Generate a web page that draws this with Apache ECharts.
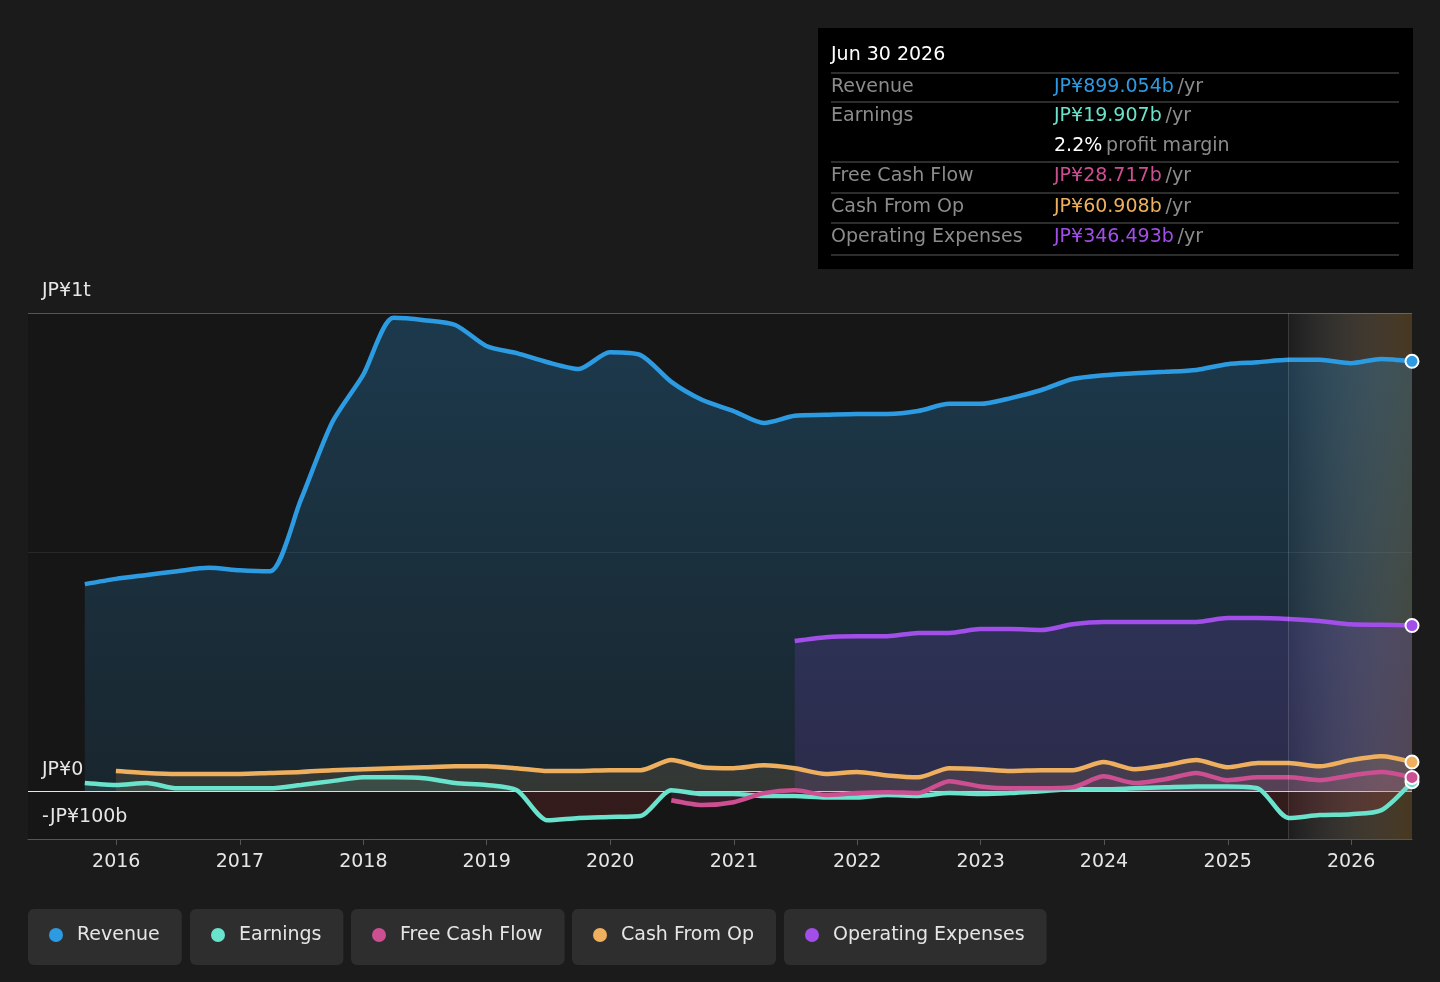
<!DOCTYPE html>
<html>
<head>
<meta charset="utf-8">
<title>Revenue &amp; Earnings</title>
<script src="https://cdn.jsdelivr.net/npm/echarts@6/dist/echarts.min.js"></script>
<style>
  html, body { margin: 0; padding: 0; background: #1b1b1b; }
  #chart { width: 1440px; height: 982px; }
</style>
</head>
<body>
<div id="chart"></div>
<script>
// quarter ends (JP¥ billions)
var quarters = ['2015-09-30','2015-12-31','2016-03-31','2016-06-30','2016-09-30','2016-12-31',
  '2017-03-31','2017-06-30','2017-09-30','2017-12-31','2018-03-31','2018-06-30','2018-09-30','2018-12-31',
  '2019-03-31','2019-06-30','2019-09-30','2019-12-31','2020-03-31','2020-06-30','2020-09-30','2020-12-31',
  '2021-03-31','2021-06-30','2021-09-30','2021-12-31','2022-03-31','2022-06-30','2022-09-30','2022-12-31',
  '2023-03-31','2023-06-30','2023-09-30','2023-12-31','2024-03-31','2024-06-30','2024-09-30','2024-12-31',
  '2025-03-31','2025-06-30','2025-09-30','2025-12-31','2026-03-31','2026-06-30'];

var revenue = [433, 444, 452, 460, 467, 462, 460, 609, 770, 870, 990, 985, 975, 931, 916, 897, 883, 918,
  912, 856, 818, 795, 770, 785, 787, 789, 789, 795, 810, 810, 822, 839, 862, 870, 874, 877, 881, 893,
  897, 902, 902, 895, 904, 899.054];
var earnings = [17, 13, 17, 6, 6, 6, 6, 13, 21, 29, 29, 27, 17, 13, 2, -61, -56, -54, -52, 2, -6, -6,
  -10, -10, -13, -13, -8, -10, -4, -6, -4, 0, 4, 4, 6, 8, 10, 10, 6, -56, -50, -48, -40, 19.907];
var freeCashFlow = [null, null, null, null, null, null, null, null, null, null, null, null, null, null,
  null, null, null, null, null, -19, -29, -23, -4, 2, -8, -4, -2, -4, 21, 10, 6, 6, 8, 31, 17, 25, 38,
  23, 29, 29, 23, 33, 40, 28.717];
var cashFromOp = [null, 42, 38, 36, 36, 36, 38, 40, 44, 46, 48, 50, 52, 52, 48, 42, 42, 44, 44, 65, 50,
  48, 54, 48, 36, 40, 33, 29, 48, 46, 42, 44, 44, 61, 46, 54, 65, 50, 59, 59, 52, 65, 73, 60.908];
var opex = [null, null, null, null, null, null, null, null, null, null, null, null, null, null, null,
  null, null, null, null, null, null, null, null, 314, 322, 324, 324, 331, 331, 339, 339, 337, 349, 354,
  354, 354, 354, 362, 362, 360, 356, 349, 348, 346.493];

var forecastStart = '2025-06-30';
var yTickLabels = { '1000': 'JP¥1t', '0': 'JP¥0', '-100': '-JP¥100b' };

var colRevenue = '#2d9be2';
var colEarnings = '#6ae3cc';
var colFcf = '#cc4f92';
var colCfo = '#eeb05e';
var colOpex = '#a24ee8';

var last = quarters.length - 1;
var FONT = 'DejaVu Sans';

function pairs(values) {
  return quarters.map(function (d, i) { return [d, values[i]]; });
}

function lineSeries(id, name, values, color, area) {
  return {
    id: id,
    name: name,
    type: 'line',
    data: pairs(values),
    smooth: 0.25,
    showSymbol: true,
    symbol: 'circle',
    symbolSize: function (v, p) { return p.dataIndex === last ? 13 : 0; },
    lineStyle: { width: 4.5, color: color },
    itemStyle: { color: color, borderColor: '#ffffff', borderWidth: 2 },
    areaStyle: area,
    emphasis: { disabled: true },
    z: 3
  };
}

function money(v) { return 'JP¥' + v.toFixed(3) + 'b'; }

var months = ['Jan','Feb','Mar','Apr','May','Jun','Jul','Aug','Sep','Oct','Nov','Dec'];
var lp = quarters[last].split('-');
var tipTitle = months[+lp[1] - 1] + ' ' + (+lp[2]) + ' ' + lp[0];
var margin = (earnings[last] / revenue[last] * 100).toFixed(1) + '%';

var tipRows = [
  { label: 'Revenue', value: money(revenue[last]), color: colRevenue, y: 87 },
  { label: 'Earnings', value: money(earnings[last]), color: colEarnings, y: 116 },
  { label: 'Free Cash Flow', value: money(freeCashFlow[last]), color: colFcf, y: 176 },
  { label: 'Cash From Op', value: money(cashFromOp[last]), color: colCfo, y: 207 },
  { label: 'Operating Expenses', value: money(opex[last]), color: colOpex, y: 237 }
];
var tipLines = [73, 102, 162, 193, 223, 255];

var graphics = [
  { type: 'rect', left: 818, top: 28, shape: { width: 595, height: 241 }, style: { fill: '#000000' }, z: 10 },
  { type: 'text', x: 831, y: 55, z: 11,
    style: { text: tipTitle, fill: '#ffffff', fontSize: 19, fontFamily: FONT, verticalAlign: 'middle' } },
  { type: 'text', x: 1054, y: 146, z: 11,
    style: { text: '{p|' + margin + '} {u|profit margin}', verticalAlign: 'middle', fontFamily: FONT,
      rich: { p: { fill: '#ffffff', fontSize: 19, fontFamily: FONT },
              u: { fill: '#8c8c8c', fontSize: 19, fontFamily: FONT } } } }
];
tipLines.forEach(function (y) {
  graphics.push({ type: 'line', z: 11, shape: { x1: 831, y1: y, x2: 1399, y2: y },
    style: { stroke: '#3c3c3c', lineWidth: 1.5 } });
});
tipRows.forEach(function (r) {
  graphics.push({ type: 'text', x: 831, y: r.y, z: 11,
    style: { text: r.label, fill: '#8c8c8c', fontSize: 19, fontFamily: FONT, verticalAlign: 'middle' } });
  graphics.push({ type: 'text', x: 1054, y: r.y, z: 11,
    style: { text: '{v|' + r.value + '} {u|/yr}', verticalAlign: 'middle', fontFamily: FONT,
      rich: { v: { fill: r.color, fontSize: 19, fontFamily: FONT },
              u: { fill: '#8c8c8c', fontSize: 19, fontFamily: FONT } } } });
});

// one boxed legend per series
var legendNames = ['Revenue', 'Earnings', 'Free Cash Flow', 'Cash From Op', 'Operating Expenses'];
var legendLefts = [28, 190, 351, 572, 784];
var legends = legendNames.map(function (n, i) {
  return {
    data: [n],
    left: legendLefts[i],
    top: 909,
    icon: 'circle',
    itemWidth: 28,
    itemHeight: 14,
    padding: [16, 22, 20, 21],
    backgroundColor: '#2e2e2e',
    borderRadius: 6,
    selectedMode: false,
    itemStyle: { borderWidth: 0 },
    textStyle: { color: '#e6e6e6', fontSize: 19, fontFamily: FONT, lineHeight: 20, padding: [0, 0, 0, 2] }
  };
});

var splitColors = ['#4a4a4a', '#e6e6e6', 'rgba(0,0,0,0)', 'rgba(0,0,0,0)', 'rgba(0,0,0,0)', 'rgba(0,0,0,0)',
  'rgba(255,255,255,0.08)', 'rgba(0,0,0,0)', 'rgba(0,0,0,0)', 'rgba(0,0,0,0)', 'rgba(0,0,0,0)', '#555555'];

var DAY = 24 * 3600 * 1000;

var revSeries = lineSeries('revenue', 'Revenue', revenue, colRevenue, {
  color: new echarts.graphic.LinearGradient(0, 0, 0, 1, [
    { offset: 0, color: 'rgba(45,155,226,0.38)' },
    { offset: 1, color: 'rgba(45,155,226,0.17)' }
  ])
});
var opexSeries = lineSeries('opex', 'Operating Expenses', opex, colOpex, {
  color: 'rgba(150,80,240,0.22)'
});
var earnSeries = lineSeries('earnings', 'Earnings', earnings, colEarnings, { color: 'rgba(106,227,204,0.18)' });
var fcfSeries = lineSeries('fcf', 'Free Cash Flow', freeCashFlow, colFcf, { color: 'rgba(204,79,146,0.18)' });
var cfoSeries = lineSeries('cfo', 'Cash From Op', cashFromOp, colCfo, { color: 'rgba(238,176,94,0.18)' });

cfoSeries.markArea = {
  silent: true,
  itemStyle: {
    color: new echarts.graphic.LinearGradient(0, 0, 1, 0, [
      { offset: 0, color: 'rgba(255,255,255,0.03)' },
      { offset: 1, color: 'rgba(160,115,50,0.36)' }
    ])
  },
  data: [[{ xAxis: forecastStart }, { xAxis: quarters[last] }]]
};
cfoSeries.markLine = {
  silent: true,
  symbol: ['none', 'none'],
  label: { show: false },
  lineStyle: { color: 'rgba(255,255,255,0.15)', type: 'solid', width: 1 },
  data: [{ xAxis: forecastStart }]
};

var option = {
  backgroundColor: '#1b1b1b',
  animation: false,
  textStyle: { fontFamily: FONT },
  grid: { left: 28, right: 28, top: 313, bottom: 143, show: true, backgroundColor: '#161616', borderWidth: 0 },
  legend: legends,
  graphic: graphics,
  xAxis: {
    type: 'time',
    min: '2015-04-15',
    max: quarters[last],
    minInterval: 365 * DAY,
    maxInterval: 366 * DAY,
    axisLine: { onZero: false, lineStyle: { color: '#555555' } },
    axisTick: { show: true, length: 6, lineStyle: { color: '#555555' } },
    splitLine: { show: false },
    axisLabel: {
      color: '#e6e6e6', fontSize: 19, margin: 14, showMinLabel: false, showMaxLabel: false,
      formatter: function (v) { return String(new Date(v).getFullYear()); }
    }
  },
  yAxis: {
    type: 'value',
    min: -100,
    max: 1000,
    interval: 100,
    axisLine: { show: false },
    axisTick: { show: false },
    splitLine: { show: true, lineStyle: { color: splitColors, width: 1 } },
    axisLabel: {
      inside: true, margin: 14, verticalAlign: 'bottom', padding: [0, 0, 12, 0],
      color: '#e6e6e6', fontSize: 19,
      formatter: function (v) { return yTickLabels[String(v)] || ''; }
    }
  },
  series: [revSeries, opexSeries, earnSeries, fcfSeries, cfoSeries]
};

var myChart = echarts.init(document.getElementById('chart'));
myChart.setOption(option);

// fills that turn colour below zero
var zeroY = myChart.convertToPixel({ yAxisIndex: 0 }, 0);
var h = myChart.getHeight();
function signFill(pos, neg) {
  var z = zeroY / h;
  return new echarts.graphic.LinearGradient(0, 0, 0, h, [
    { offset: 0, color: pos }, { offset: z, color: pos },
    { offset: z, color: neg }, { offset: 1, color: neg }
  ], true);
}
myChart.setOption({
  series: [
    { id: 'earnings', areaStyle: { color: signFill('rgba(106,227,204,0.18)', 'rgba(230,60,70,0.2)') } },
    { id: 'fcf', areaStyle: { color: signFill('rgba(204,79,146,0.18)', 'rgba(204,79,146,0.2)') } }
  ]
});
</script>
</body>
</html>
